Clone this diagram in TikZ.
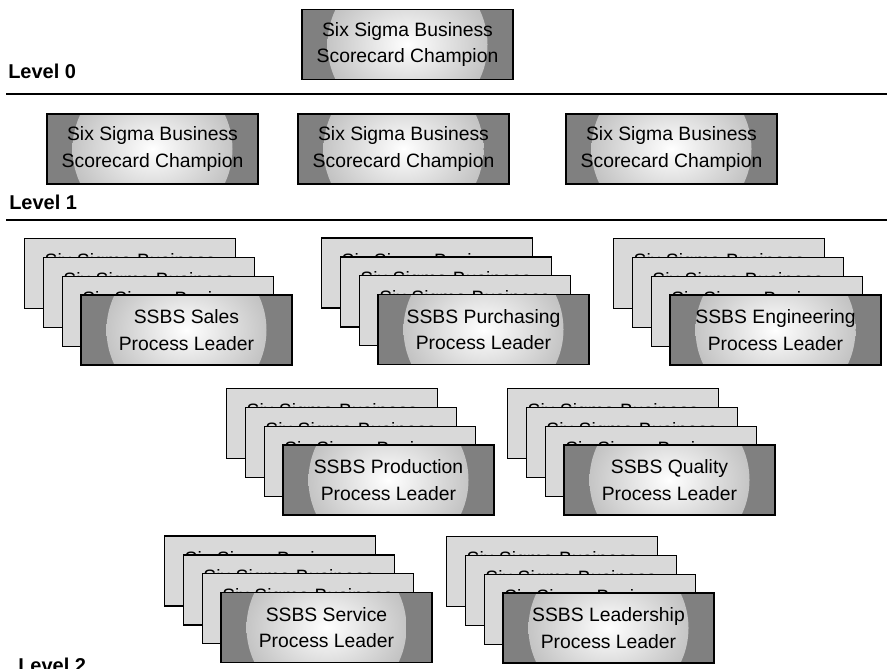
\documentclass[tikz,border=0pt]{standalone}
\usepackage{fontspec}
\setmainfont{Liberation Sans}
\usetikzlibrary{positioning}

\tikzset{
  champ/.style={draw, line width=1pt, fill=gray, inner sep=0pt,
    minimum width=158.25pt, minimum height=52.5pt, align=center,
    font=\fontsize{14.5}{20}\selectfont,
    path picture={\shade[inner color=white, outer color=gray!60]
      (path picture bounding box.center) circle (60pt);}},
  backcard/.style={draw, line width=1pt, fill=gray!30, inner sep=0pt,
    minimum width=158.25pt, minimum height=52.5pt,
    text height=21.8pt, text depth=30.7pt,
    font=\fontsize{14.5}{20}\selectfont},
  levellabel/.style={anchor=base west, inner sep=0pt,
    font=\fontsize{15}{18}\selectfont\bfseries},
  levelrule/.style={line width=2pt}
}

\begin{document}
\begin{tikzpicture}[x=0.75pt,y=0.75pt,yscale=-1,xscale=1]
  \useasboundingbox (0,0) rectangle (887,668);

  % Level 0
  \node[champ] (champion) at (407.5,44.5) {Six Sigma Business\\Scorecard Champion};
  \node[levellabel] (level0) at (8,78) {Level 0};
  \draw[levelrule] (6,94) -- (887,94);

  % Level 1
  \node[champ] (champion-a) at (152.5,149) {Six Sigma Business\\Scorecard Champion};
  \node[champ] (champion-b) at (403.5,149) {Six Sigma Business\\Scorecard Champion};
  \node[champ] (champion-c) at (671.5,149) {Six Sigma Business\\Scorecard Champion};
  \node[levellabel] (level1) at (9,209) {Level 1};
  \draw[levelrule] (6,220) -- (887,220);

  % Level 2 : process leader stacks
  \foreach \name/\cx/\cy/\unit in {sales/186.5/330/Sales,
      purchasing/483.5/329.5/Purchasing, engineering/775.5/330/Engineering,
      production/388.5/480/Production, quality/669.5/480/Quality,
      service/326.5/627.5/Service, leadership/608.5/628/Leadership} {
    \foreach \i in {3,2,1}
      \node[backcard] (\name-\i) at ({\cx-18.8*\i},{\cy-18.8*\i}) {Six Sigma Business};
    \node[champ] (\name) at (\cx,\cy) {SSBS \unit\\Process Leader};
  }
  \node[levellabel] (level2) at (18,672) {Level 2};
\end{tikzpicture}
\end{document}
